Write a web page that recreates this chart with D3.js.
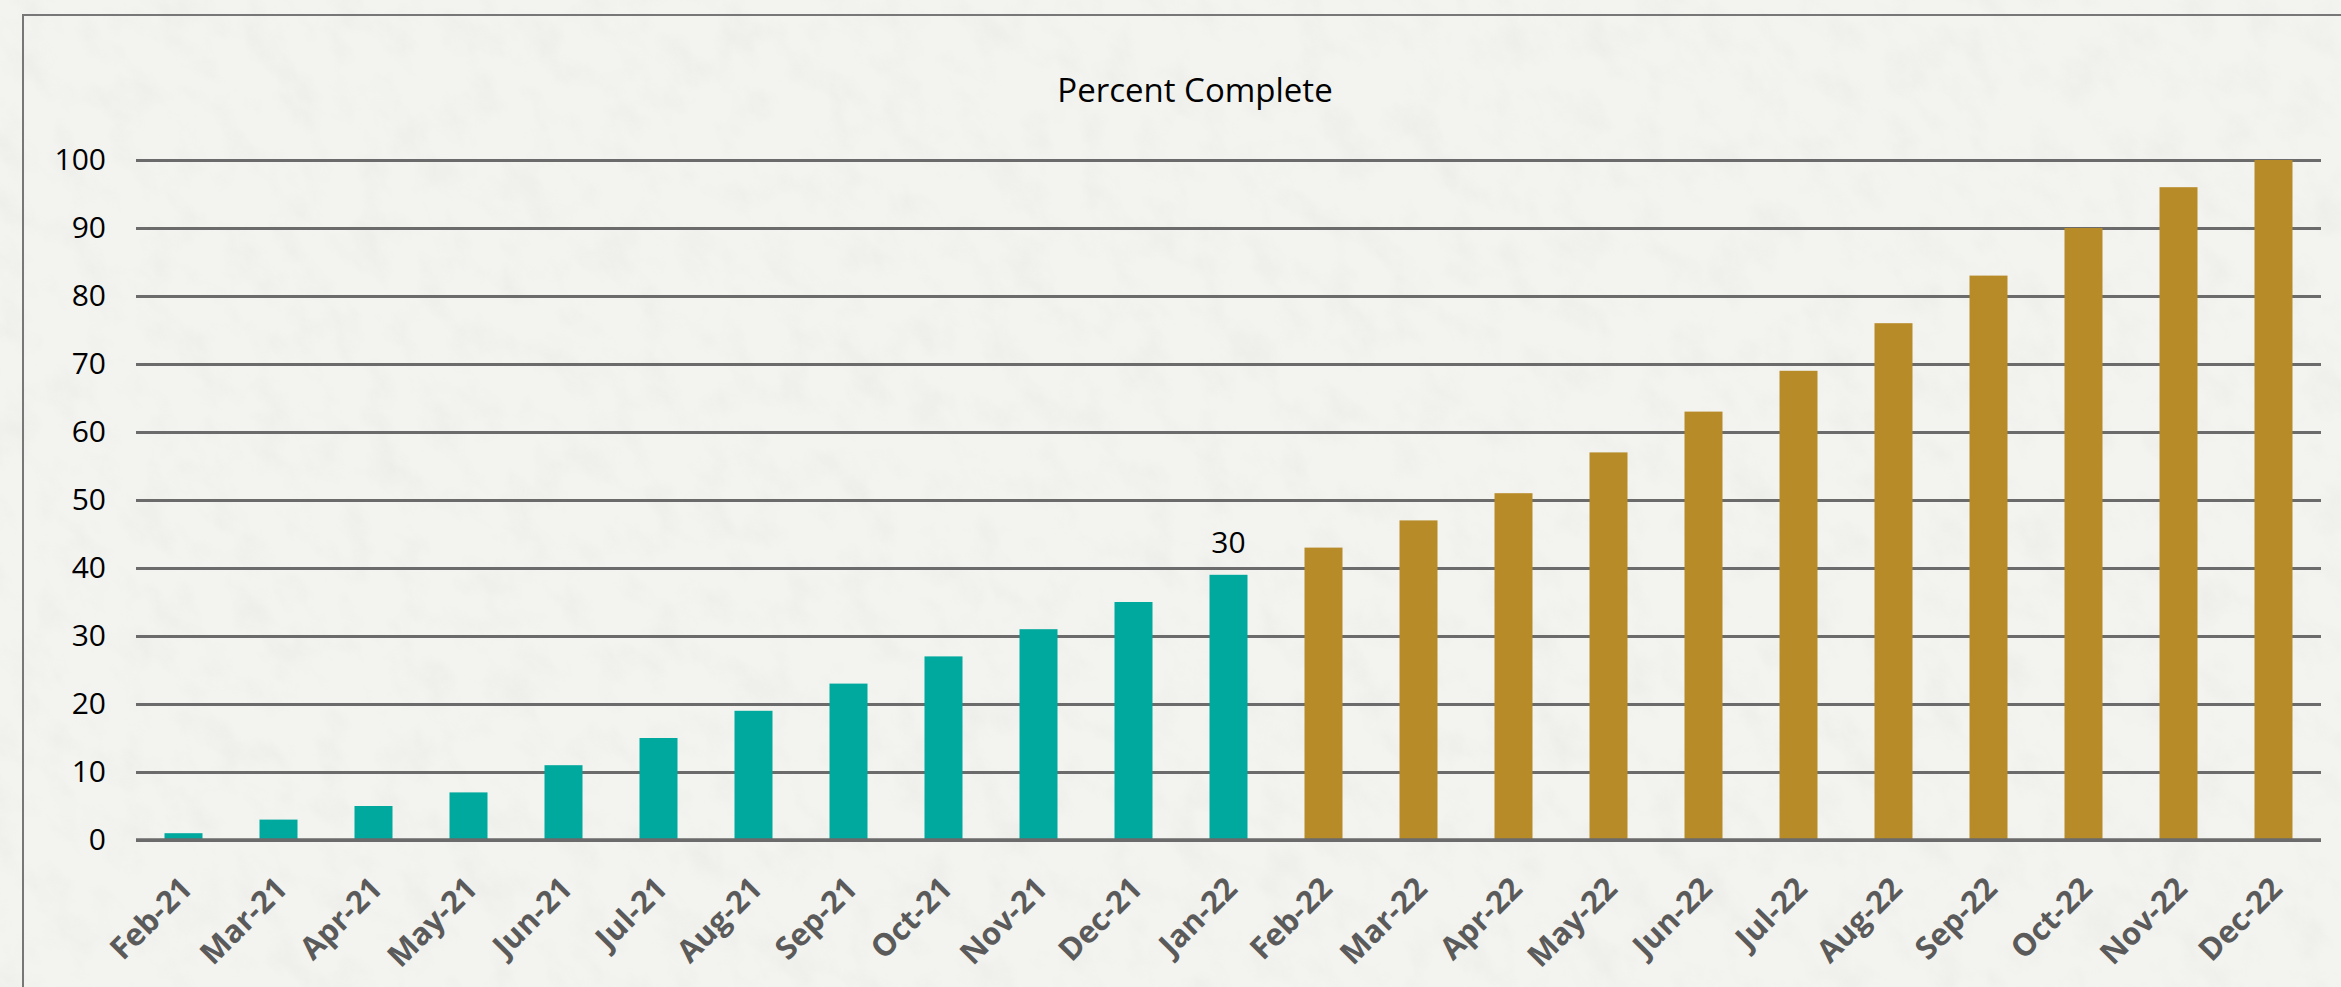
<!DOCTYPE html>
<html lang="en">
  <head>
    <meta charset="UTF-8" />
    <title>Percent Complete</title>
    <script src="https://d3js.org/d3.v7.min.js"></script>
    <style>
      body { margin: 0; background: #efefec; }
      text { font-family: "Open Sans", "Noto Sans", sans-serif; }
    </style>
  </head>
  <body>
    <div id="chart"></div>

    <script>
      // months on the x axis
      const months = [
        "Feb-21", "Mar-21", "Apr-21", "May-21", "Jun-21", "Jul-21",
        "Aug-21", "Sep-21", "Oct-21", "Nov-21", "Dec-21", "Jan-22",
        "Feb-22", "Mar-22", "Apr-22", "May-22", "Jun-22", "Jul-22",
        "Aug-22", "Sep-22", "Oct-22", "Nov-22", "Dec-22"
      ];
      // teal bars (Feb-21 .. Jan-22)
      const actual = [1, 3, 5, 7, 11, 15, 19, 23, 27, 31, 35, 39];
      // gold bars (Feb-22 .. Dec-22)
      const planned = [43, 47, 51, 57, 63, 69, 76, 83, 90, 96, 100];
      const yTicks = [0, 10, 20, 30, 40, 50, 60, 70, 80, 90, 100];
      // the one data label shown on the chart
      const labelMonth = "Jan-22";
      const labelText = "30";

      const w = 2341;
      const h = 987;
      const plotL = 136, plotR = 2321, plotT = 160, plotB = 840;

      const data = months.map((m, i) => ({
        month: m,
        value: i < actual.length ? actual[i] : planned[i - actual.length],
        kind: i < actual.length ? "actual" : "planned"
      }));

      const svg = d3.select("#chart")
        .append("svg")
        .attr("width", w)
        .attr("height", h);

      // paper-like background
      const defs = svg.append("defs");
      const f = defs.append("filter").attr("id", "paper")
        .attr("x", 0).attr("y", 0).attr("width", "100%").attr("height", "100%");
      f.append("feTurbulence")
        .attr("type", "fractalNoise")
        .attr("baseFrequency", "0.03 0.02")
        .attr("numOctaves", 4)
        .attr("seed", 7);
      f.append("feColorMatrix")
        .attr("type", "matrix")
        .attr("values", "0 0 0 0 0.6  0 0 0 0 0.6  0 0 0 0 0.58  1.6 0 0 0 -0.75");

      svg.append("rect")
        .attr("width", w).attr("height", h)
        .attr("fill", "#f3f3f0");
      svg.append("g")
        .attr("transform", "rotate(-35 1170 490)")
        .append("rect")
        .attr("x", -600).attr("y", -900)
        .attr("width", 3600).attr("height", 2800)
        .attr("filter", "url(#paper)")
        .attr("opacity", 0.2);

      // chart frame
      svg.append("rect")
        .attr("x", 23).attr("y", 15)
        .attr("width", 2400).attr("height", 1000)
        .attr("fill", "none")
        .attr("stroke", "#777")
        .attr("stroke-width", 2);

      const x = d3.scaleBand()
        .domain(months)
        .range([plotL, plotR])
        .paddingInner(0.6)
        .paddingOuter(0.3);

      const y = d3.scaleLinear()
        .domain([0, 100])
        .range([plotB, plotT]);

      // y axis with gridlines
      const yAxis = svg.append("g")
        .attr("transform", `translate(${plotL},0)`)
        .call(d3.axisLeft(y)
          .tickValues(yTicks)
          .tickSize(-(plotR - plotL))
          .tickPadding(30));
      yAxis.select(".domain").remove();
      yAxis.selectAll(".tick line")
        .attr("stroke", "#6b6b6b")
        .attr("stroke-width", 3);
      yAxis.selectAll(".tick text")
        .attr("font-size", 30)
        .attr("fill", "#000")
        .attr("font-family", "'Open Sans', sans-serif");

      // bars
      svg.append("g")
        .selectAll("rect")
        .data(data)
        .join("rect")
        .attr("x", d => x(d.month))
        .attr("y", d => y(d.value))
        .attr("width", x.bandwidth())
        .attr("height", d => y(0) - y(d.value))
        .attr("fill", d => d.kind === "actual" ? "#00a99d" : "#b78b28");

      // baseline on top of bars
      svg.append("line")
        .attr("x1", plotL).attr("x2", plotR)
        .attr("y1", y(0)).attr("y2", y(0))
        .attr("stroke", "#6b6b6b")
        .attr("stroke-width", 3.5);

      // x axis labels
      const xAxis = svg.append("g")
        .attr("transform", `translate(0,${plotB})`)
        .call(d3.axisBottom(x).tickSize(0).tickPadding(0));
      xAxis.select(".domain").remove();
      xAxis.selectAll(".tick text")
        .attr("font-size", 31)
        .attr("font-weight", "bold")
        .attr("fill", "#5a5a5a")
        .attr("font-family", "'Open Sans', sans-serif")
        .attr("text-anchor", "end")
        .attr("dominant-baseline", "central")
        .attr("dy", null)
        .attr("y", 0)
        .attr("transform", "translate(2,42) rotate(-45)");

      // data label
      const lab = data.find(d => d.month === labelMonth);
      svg.append("text")
        .attr("x", x(lab.month) + x.bandwidth() / 2)
        .attr("y", y(lab.value) - 22)
        .attr("text-anchor", "middle")
        .attr("font-size", 30)
        .attr("fill", "#000")
        .text(labelText);

      // title
      svg.append("text")
        .attr("x", 1195)
        .attr("y", 102)
        .attr("text-anchor", "middle")
        .attr("font-size", 33)
        .attr("fill", "#000")
        .text("Percent Complete");
    </script>
  </body>
</html>
